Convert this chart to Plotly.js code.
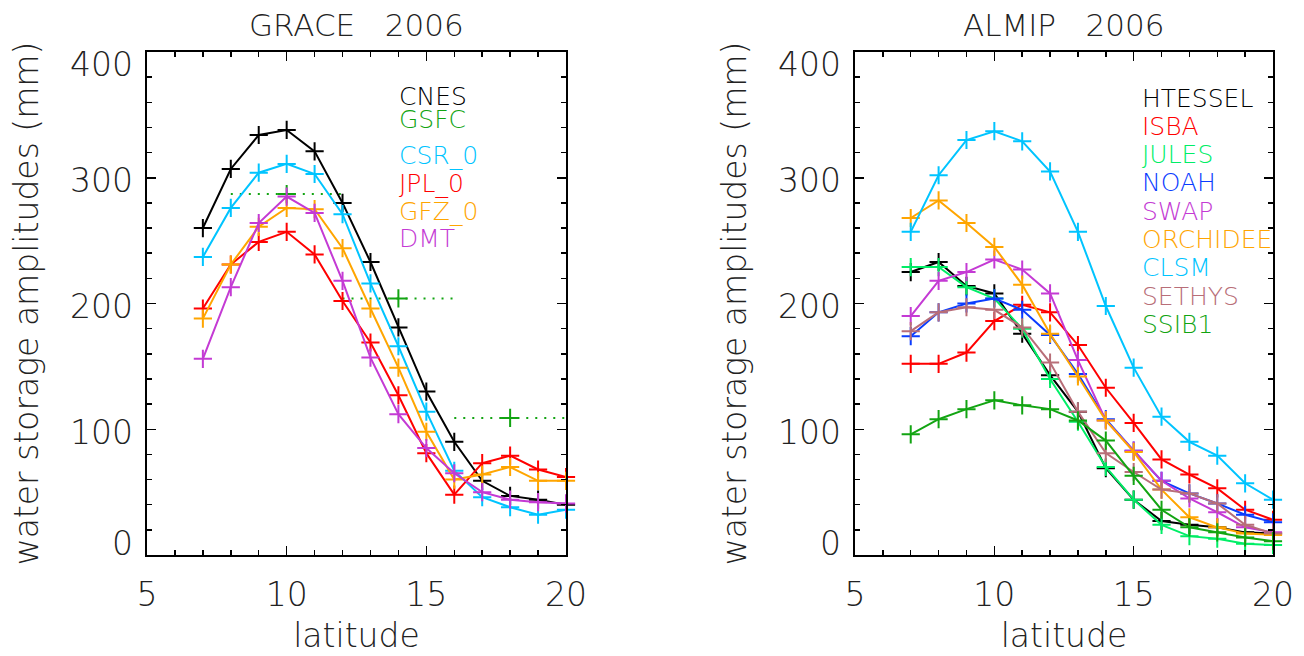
<!DOCTYPE html>
<html>
<head>
<meta charset="utf-8">
<script src="https://cdn.plot.ly/plotly-3.0.1.min.js"></script>
<style>
  html, body { margin: 0; padding: 0; background: #fff; }
  #chart { width: 1304px; height: 656px; }
</style>
</head>
<body>
<div id="chart"></div>
<script>
// Latitude bands (degrees N)
const lat = [7, 8, 9, 10, 11, 12, 13, 14, 15, 16, 17, 18, 19, 20];

// GRACE solutions, 2006 water storage amplitudes (mm)
const cnes = [260, 307, 334, 338, 321, 280, 233, 181, 130, 90, 59, 47, 44, 40];
const csr0 = [237, 276, 304, 311, 303, 271, 216, 166, 114, 67, 46, 38, 32, 36];
const jpl0 = [196, 231, 249, 257, 239, 202, 169, 127, 81, 48, 73, 79, 68, 62];
const gfz0 = [188, 231, 261, 276, 275, 244, 196, 149, 98, 60, 64, 70, 59, 59];
const dmt  = [156, 213, 264, 285, 272, 218, 157, 112, 85, 65, 50, 44, 42, 41];

// GSFC mascon solution: one value per 4-degree band
const gsfcLat = [10, 14, 18];
const gsfcVal = [287, 204, 109];
const gsfcHalfBand = 2;

// ALMIP land surface models, 2006 water storage amplitudes (mm)
const htessel  = [225, 233, 214, 208, 176, 143, 114, 69, 44, 27, 24, 22, 18, 17];
const isba     = [152, 152, 161, 186, 199, 193, 167, 133, 105, 76, 64, 53, 36, 28];
const jules    = [229, 229, 213, 204, 180, 140, 106, 70, 44, 24, 15, 13, 9, 8];
const noah     = [174, 193, 200, 204, 195, 175, 144, 108, 83, 59, 49, 41, 32, 26];
const swap     = [190, 218, 225, 235, 227, 208, 155, 107, 83, 59, 45, 34, 22, 18];
const orchidee = [268, 282, 264, 245, 215, 176, 142, 107, 82, 52, 30, 22, 17, 16];
const clsm     = [257, 302, 330, 337, 329, 305, 257, 198, 149, 110, 90, 79, 57, 44];
const sethys   = [178, 193, 197, 195, 181, 153, 114, 81, 66, 52, 49, 41, 24, 17];
const ssib1    = [96, 108, 116, 123, 119, 116, 107, 91, 63, 36, 22, 18, 14, 11];

// Axis ticks
const xTicks = [5, 10, 15, 20];
const yTicks = [0, 100, 200, 300, 400];

const FONT = 'DejaVu Sans ExtraLight, DejaVu Sans, sans-serif';
const TXT = '#222';

function seriesTrace(name, y, color, xa, ya) {
  return {
    type: 'scatter', mode: 'lines+markers', name: name,
    x: lat, y: y, xaxis: xa, yaxis: ya,
    line: { color: color, width: 2 },
    marker: { symbol: 'cross-thin', size: 13, line: { color: color, width: 2 } },
    cliponaxis: false, showlegend: false
  };
}

const graceSeries = [
  { name: 'CNES',  y: cnes, color: '#000000' },
  { name: 'CSR_0', y: csr0, color: '#00c4ff' },
  { name: 'JPL_0', y: jpl0, color: '#ff0000' },
  { name: 'GFZ_0', y: gfz0, color: '#ffa500' },
  { name: 'DMT',   y: dmt,  color: '#c43ad4' }
];
const gsfcColor = '#12a412';

const almipSeries = [
  { name: 'HTESSEL',  y: htessel,  color: '#000000' },
  { name: 'ISBA',     y: isba,     color: '#ff0000' },
  { name: 'JULES',    y: jules,    color: '#00ee66' },
  { name: 'NOAH',     y: noah,     color: '#0a3cff' },
  { name: 'SWAP',     y: swap,     color: '#c43ad4' },
  { name: 'ORCHIDEE', y: orchidee, color: '#ffa500' },
  { name: 'CLSM',     y: clsm,     color: '#00c4ff' },
  { name: 'SETHYS',   y: sethys,   color: '#b86e78' },
  { name: 'SSIB1',    y: ssib1,    color: '#12a412' }
];

const traces = [];

// GSFC bands: dotted segment across each band with a cross at its centre
gsfcLat.forEach((c, i) => {
  traces.push({
    type: 'scatter', mode: 'lines', x: [c - gsfcHalfBand, c + gsfcHalfBand],
    y: [gsfcVal[i], gsfcVal[i]], xaxis: 'x', yaxis: 'y',
    line: { color: gsfcColor, width: 2, dash: '2px,7px' },
    showlegend: false, hoverinfo: 'skip'
  });
});
traces.push({
  type: 'scatter', mode: 'markers', name: 'GSFC', x: gsfcLat, y: gsfcVal,
  xaxis: 'x', yaxis: 'y',
  marker: { symbol: 'cross-thin', size: 13, line: { color: gsfcColor, width: 2 } },
  showlegend: false
});

graceSeries.forEach(s => traces.push(seriesTrace(s.name, s.y, s.color, 'x', 'y')));
almipSeries.forEach(s => traces.push(seriesTrace(s.name, s.y, s.color, 'x2', 'y2')));

function xAxis(domain, anchor) {
  return {
    domain: domain, anchor: anchor, range: [5, 20],
    showgrid: false, zeroline: false,
    showline: true, linecolor: '#000', linewidth: 2, mirror: 'ticks',
    ticks: 'inside', ticklen: 9, tickwidth: 1.5, tickcolor: '#000',
    tickvals: xTicks, ticktext: xTicks.map(String),
    tickfont: { family: FONT, size: 33, color: TXT, weight: 200 },
    ticklabelstandoff: 9,
    minor: { ticks: 'inside', ticklen: 5, tickwidth: 1.5, tickcolor: '#000', dtick: 1, showgrid: false },
    title: { text: 'latitude', font: { family: FONT, size: 33, color: TXT, weight: 200 }, standoff: 11 }
  };
}
function yAxis(domain, anchor) {
  return {
    domain: domain, anchor: anchor, range: [0, 400],
    showgrid: false, zeroline: false,
    showline: true, linecolor: '#000', linewidth: 2, mirror: 'ticks',
    ticks: 'inside', ticklen: 9, tickwidth: 1.5, tickcolor: '#000',
    tickvals: yTicks, showticklabels: false,
    minor: { ticks: 'inside', ticklen: 5, tickwidth: 1.5, tickcolor: '#000', dtick: 20, showgrid: false },
    title: { text: 'water storage amplitudes (mm)', font: { family: FONT, size: 33, color: TXT, weight: 200 }, standoff: 96 }
  };
}

const W = 1304, H = 656;
const yDom = [1 - 555 / H, 1 - 52 / H];

const annotations = [];

// y tick labels: inner labels sit just below their tick, end labels are pulled inside the frame
['x', 'x2'].forEach((xa, k) => {
  const ya = k === 0 ? 'y' : 'y2';
  yTicks.forEach((v, i) => {
    const first = i === 0, last = i === yTicks.length - 1;
    annotations.push({
      xref: xa + ' domain', yref: ya, x: 0, y: v, text: String(v),
      xanchor: 'right', yanchor: 'middle',
      xshift: -12, yshift: first ? 12 : (last ? -13 : -3),
      showarrow: false, font: { family: FONT, size: 33, color: TXT, weight: 200 }
    });
  });
});

// panel titles
[['x', 'GRACE   2006'], ['x2', 'ALMIP   2006']].forEach(([xa, t]) => {
  annotations.push({
    xref: xa + ' domain', yref: 'paper', x: 0.5, y: 1 - 25 / H, text: t,
    xanchor: 'center', yanchor: 'middle', showarrow: false,
    font: { family: FONT, size: 31, color: TXT, weight: 200 }
  });
});

// GRACE keys: CNES/GSFC close together, then a gap before the rest
const graceKeys = [
  { name: 'CNES', color: '#000000' },
  { name: 'GSFC', color: gsfcColor },
  { name: 'CSR_0', color: graceSeries[1].color },
  { name: 'JPL_0', color: graceSeries[2].color },
  { name: 'GFZ_0', color: graceSeries[3].color },
  { name: 'DMT', color: graceSeries[4].color }
];
let gy = 97;
graceKeys.forEach((k, i) => {
  annotations.push({
    xref: 'x domain', yref: 'paper', x: (398 - 147) / (566 - 147), y: 1 - gy / H, text: k.name,
    xanchor: 'left', yanchor: 'middle', showarrow: false, borderpad: 0,
    font: { family: FONT, size: 25, color: k.color, weight: 200 }
  });
  gy += i === 0 ? 22 : (i === 1 ? 36 : 28);
});

// ALMIP keys
almipSeries.forEach((s, i) => {
  annotations.push({
    xref: 'x2 domain', yref: 'paper', x: (1141 - 855) / (1273 - 855), y: 1 - (98 + 28.3 * i) / H,
    text: s.name, xanchor: 'left', yanchor: 'middle', showarrow: false, borderpad: 0,
    font: { family: FONT, size: 25, color: s.color, weight: 200 }
  });
});

const layout = {
  width: W, height: H,
  margin: { l: 0, r: 0, t: 0, b: 0 },
  paper_bgcolor: '#fff', plot_bgcolor: '#fff',
  showlegend: false,
  xaxis: xAxis([147 / W, 566 / W], 'y'),
  yaxis: yAxis(yDom, 'x'),
  xaxis2: xAxis([855 / W, 1273 / W], 'y2'),
  yaxis2: yAxis(yDom, 'x2'),
  annotations: annotations
};

Plotly.newPlot('chart', traces, layout, { staticPlot: true });
</script>
</body>
</html>
